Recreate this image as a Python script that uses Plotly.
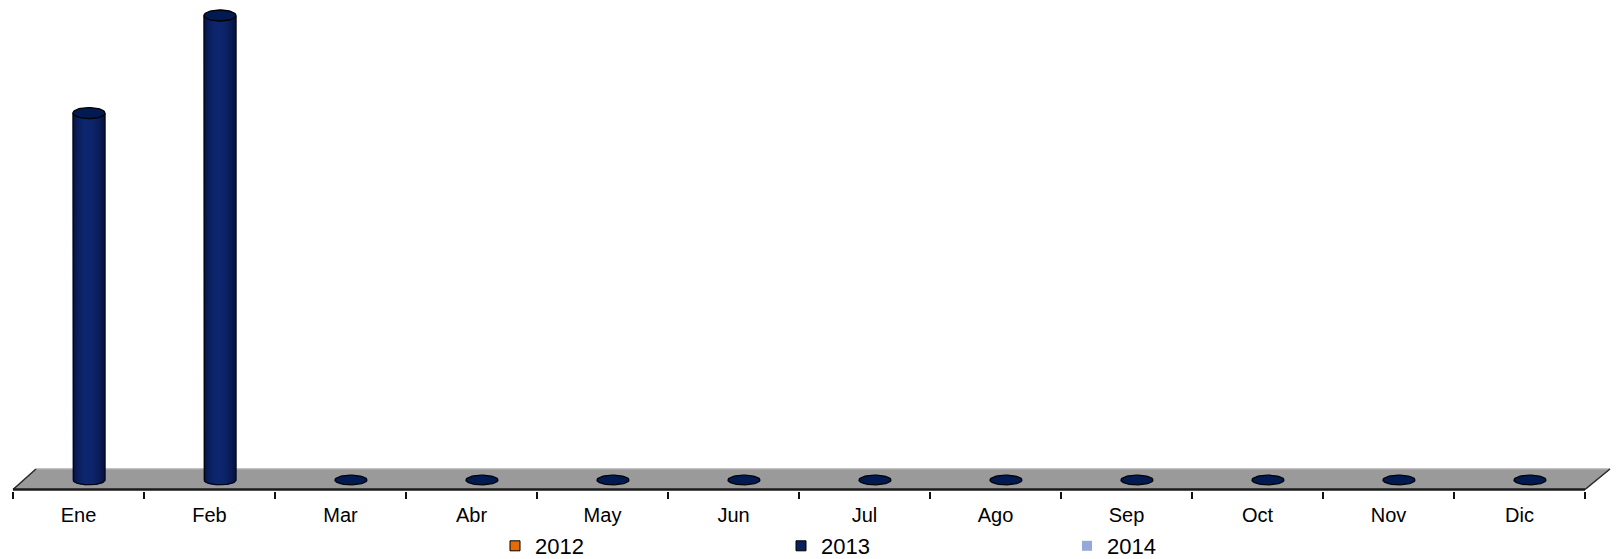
import numpy as np
import plotly.graph_objects as go

# ---------------- data ----------------
months = ["Ene", "Feb", "Mar", "Abr", "May", "Jun", "Jul", "Ago", "Sep", "Oct", "Nov", "Dic"]
series_names = ["2012", "2013", "2014"]
series_colors = ["#E36C09", "#0A1F5C", "#95A9D8"]
values_2012 = [None] * 12
values_2013 = [79, 100, 0, 0, 0, 0, 0, 0, 0, 0, 0, 0]
values_2014 = [None] * 12

# ---------------- geometry helpers (pixel -> data scale) ----------------
W, H = 1618, 559
PLOT_BOTTOM_PX = 491          # plot area bottom (px from top)
ZERO_PX = 480                 # pixel of value 0
PX_PER_UNIT = 4.645           # vertical px per data unit
CAT_PX = 131.0                # px per category
LEFT_PX = 13.0                # left boundary of first category

x_range = [-0.5 - LEFT_PX / CAT_PX, -0.5 + (W - LEFT_PX) / CAT_PX]
y_range = [-(PLOT_BOTTOM_PX - ZERO_PX) / PX_PER_UNIT, ZERO_PX / PX_PER_UNIT]

rx = 16.0 / CAT_PX
ry = 4.8 / PX_PER_UNIT
depth_dx = 10.5 / CAT_PX

FONT = "Liberation Sans Narrow, Arial Narrow, Liberation Sans, Arial, sans-serif"

fig = go.Figure()

# floor (3D base plane)
y_front = -(489.5 - ZERO_PX) / PX_PER_UNIT
y_back = (ZERO_PX - 469) / PX_PER_UNIT
x_fl, x_fr = -0.5, len(months) - 0.5
x_bl, x_br = x_fl + 23 / CAT_PX, x_fr + 25 / CAT_PX
fig.add_trace(go.Scatter(
    x=[x_fl, x_bl, x_br, x_fr, x_fl], y=[y_front, y_back, y_back, y_front, y_front],
    mode="lines", fill="toself", fillcolor="#9a9a9a",
    line=dict(color="#808080", width=1), hoverinfo="skip", showlegend=False))
fig.add_trace(go.Scatter(x=[x_bl, x_br], y=[y_back, y_back], mode="lines",
                         line=dict(color="#c4c4c4", width=1.2), hoverinfo="skip", showlegend=False))
fig.add_trace(go.Scatter(x=[x_fl, x_bl], y=[y_front, y_back], mode="lines",
                         line=dict(color="#2a2a2a", width=1.5), hoverinfo="skip", showlegend=False))
fig.add_trace(go.Scatter(x=[x_fr, x_br], y=[y_front, y_back], mode="lines",
                         line=dict(color="#2a2a2a", width=1.5), hoverinfo="skip", showlegend=False))
fig.add_trace(go.Scatter(x=[x_fl, x_fr], y=[y_front, y_front], mode="lines",
                         line=dict(color="#1a1a1a", width=2.5), hoverinfo="skip", showlegend=False))


def lerp(c1, c2, t):
    return "rgb(%d,%d,%d)" % tuple(int(round(a + (b - a) * t)) for a, b in zip(c1, c2))


edge_col = (4, 16, 58)
mid_col = (16, 42, 118)

# cylinders for 2013
n_strips = 16
for i, v in enumerate(values_2013):
    if v is None:
        continue
    c = i + depth_dx
    if v > 0:
        xs_edges = np.linspace(c - rx, c + rx, n_strips + 1)
        for k in range(n_strips):
            xa, xb = xs_edges[k], xs_edges[k + 1]
            xx = np.linspace(xa, xb, 6)
            yb = -ry * np.sqrt(np.clip(1 - ((xx - c) / rx) ** 2, 0, 1))
            tmid = ((xa + xb) / 2 - (c - rx)) / (2 * rx)
            prof = np.sin(np.pi * tmid) ** 0.7
            prof = prof * (1 - 0.25 * tmid)
            px = list(xx) + list(xx[::-1]) + [xx[0]]
            py = list(yb) + [v] * len(xx) + [yb[0]]
            fig.add_trace(go.Scatter(x=px, y=py, mode="lines", fill="toself",
                                     fillcolor=lerp(edge_col, mid_col, prof),
                                     line=dict(width=0.6, color=lerp(edge_col, mid_col, prof)),
                                     hoverinfo="skip", showlegend=False))
        t = np.linspace(np.pi, 2 * np.pi, 40)
        ox = [c - rx] + list(c + rx * np.cos(t)) + [c + rx]
        oy = [v] + list(ry * np.sin(t)) + [v]
        fig.add_trace(go.Scatter(x=ox, y=oy, mode="lines",
                                 line=dict(color="#000514", width=1.2),
                                 hoverinfo="skip", showlegend=False))
    t = np.linspace(0, 2 * np.pi, 60)
    r_y = ry * (1.15 if v > 0 else 1.0)
    fig.add_trace(go.Scatter(x=c + rx * np.cos(t), y=v + r_y * np.sin(t), mode="lines",
                             fill="toself", fillcolor="#021a52",
                             line=dict(color="#000000", width=1.3),
                             hoverinfo="skip", showlegend=False))

# legend entries
for name, col in zip(series_names, series_colors):
    fig.add_trace(go.Scatter(
        x=[None], y=[None], mode="markers", name=name,
        marker=dict(symbol="square", size=10, color=col,
                    line=dict(color="black", width=1 if name != "2014" else 0))))

fig.update_layout(
    width=W, height=H, autosize=False,
    margin=dict(l=0, r=0, t=0, b=0, pad=0, autoexpand=False),
    paper_bgcolor="white", plot_bgcolor="white",
    font=dict(family=FONT, size=20, color="black"),
    showlegend=True,
    legend=dict(orientation="h", x=495 / W, xanchor="left",
                y=(H - 546) / H, yanchor="middle",
                entrywidth=241, entrywidthmode="pixels", itemwidth=30,
                font=dict(family=FONT, size=22), bgcolor="rgba(0,0,0,0)", tracegroupgap=0),
    xaxis=dict(range=x_range, showgrid=False, zeroline=False, showline=False,
               tickmode="array", tickvals=list(range(len(months))), ticktext=months,
               ticks="", ticklabelstandoff=10, tickfont=dict(family=FONT, size=20),
               minor=dict(tickmode="array", tickvals=[i - 0.5 for i in range(len(months) + 1)],
                          ticks="outside", ticklen=7, tickwidth=1.5, tickcolor="#111111",
                          showgrid=False),
               automargin=False, fixedrange=True),
    yaxis=dict(range=y_range, domain=[(H - PLOT_BOTTOM_PX) / H, 1],
               showgrid=False, zeroline=False, showline=False,
               showticklabels=False, ticks="", automargin=False, fixedrange=True),
)

fig.write_html("out.html", config={"displayModeBar": False},
               post_script="document.body.style.margin='0px';document.body.style.overflow='hidden';")
